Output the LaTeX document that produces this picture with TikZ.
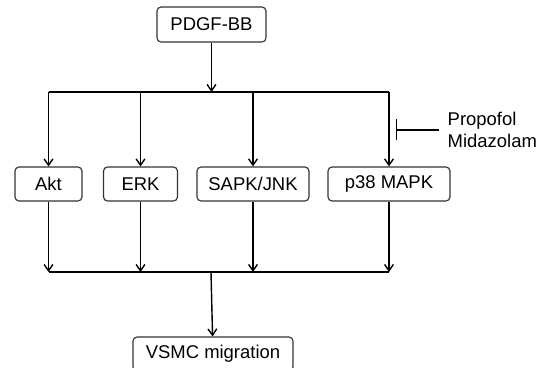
\documentclass[tikz,border=0pt]{standalone}
\usepackage{fontspec}
\setmainfont{Liberation Sans}
\usetikzlibrary{positioning,arrows.meta}

\begin{document}
\begin{tikzpicture}[
  >={Straight Barb[length=3.6pt,width=5pt]},
  line width=0.8pt,
  mol/.style={draw=black!80, line width=0.65pt, rounded corners=2.3pt, minimum height=0.68cm, inner sep=0pt, font=\fontsize{10.5}{12.6}\selectfont}
]
  \useasboundingbox (0,0) rectangle (10.82,7.36);

  \node[mol, minimum width=2.18cm, minimum height=0.7cm] (src) at (4.23,6.87) {PDGF-BB};

  \node[mol, minimum width=1.34cm] (k1) at (0.97,3.68) {Akt};
  \node[mol, minimum width=1.48cm] (k2) at (2.81,3.68) {ERK};
  \node[mol, minimum width=2.24cm] (k3) at (5.06,3.68) {SAPK/JNK};
  \node[mol, minimum width=2.44cm] (k4) at (7.78,3.68) {p38 MAPK};

  \node[mol, minimum width=3.2cm] (out) at (4.26,0.28) {VSMC migration};

  \node[anchor=west, align=left, inner xsep=0.16cm, inner ysep=0pt, font=\fontsize{10.5}{12.6}\selectfont] (drug) at (8.78,4.76) {Propofol\\Midazolam};

  % branch points on the upper and lower bars
  \coordinate (t0) at (4.23,5.52);
  \coordinate (t1) at (0.97,5.52);
  \coordinate (t4) at (7.78,5.52);
  \coordinate (b0) at (4.22,1.92);
  \coordinate (b1) at (0.97,1.92);
  \coordinate (b2) at (2.81,1.92);
  \coordinate (b3) at (5.06,1.92);
  \coordinate (b4) at (7.78,1.92);
  \coordinate (inh) at (7.92,4.76);

  \draw[->] (src) -- (t0);
  \draw (t1) -- (t4);
  \draw[->] (t1) -- (k1);
  \draw[->] (k2 |- t1) -- (k2);
  \draw[->] (k3 |- t1) -- (k3);
  \draw[->] (t4) -- (k4);

  \draw[->] (k1) -- (b1);
  \draw[->] (k2) -- (b2);
  \draw[->] (k3) -- (b3);
  \draw[->] (k4) -- (b4);
  \draw (b1) -- (b4);
  \draw[->] (b0) -- (out);

  \draw[-{Bar[width=0.42cm]}] (drug.west) -- (inh);
\end{tikzpicture}
\end{document}
